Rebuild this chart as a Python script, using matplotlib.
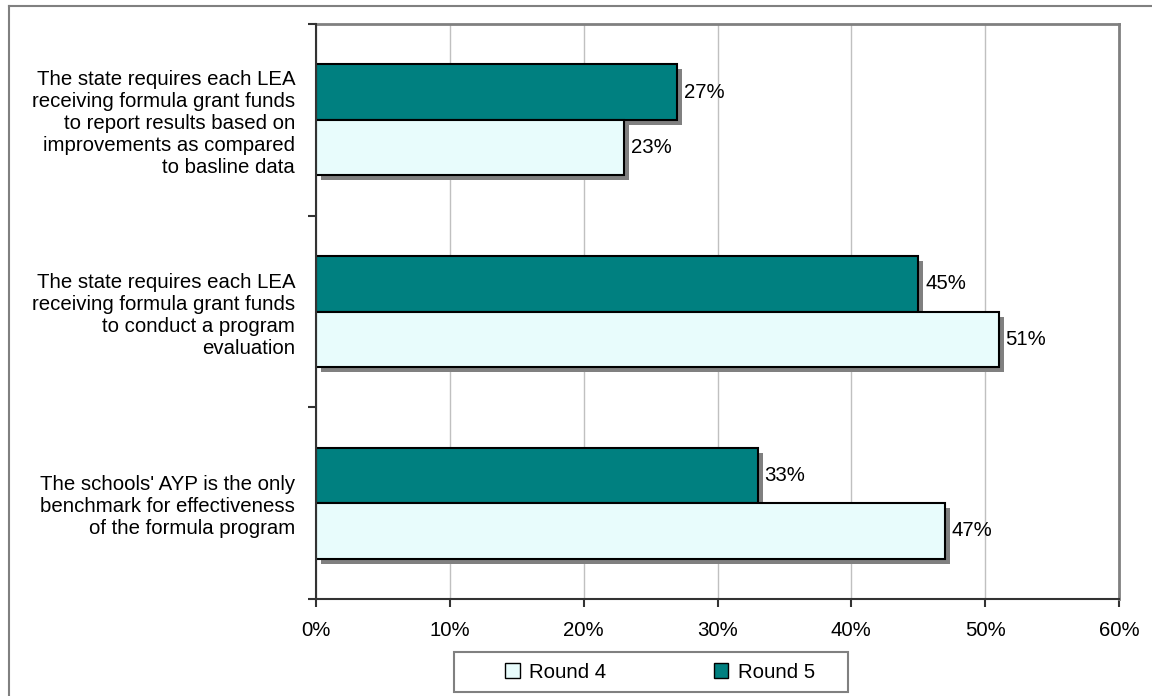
import matplotlib.pyplot as plt
import matplotlib.patheffects as pe
from matplotlib.patches import Rectangle
from matplotlib.lines import Line2D
import numpy as np

plt.rcParams['font.family'] = ['Liberation Sans', 'DejaVu Sans']

# categories listed bottom to top
categories = [
    "The schools' AYP is the only\nbenchmark for effectiveness\nof the formula program",
    "The state requires each LEA\nreceiving formula grant funds\nto conduct a program\nevaluation",
    "The state requires each LEA\nreceiving formula grant funds\nto report results based on\nimprovements as compared\nto basline data",
]
round4 = [47, 51, 23]
round5 = [33, 45, 27]
xticks = [0, 10, 20, 30, 40, 50, 60]

teal = '#008080'
pale = '#E8FCFC'
fs = 14.7
shadow = [pe.SimplePatchShadow(offset=(3.6, -3.6), shadow_rgbFace='#808080', alpha=1.0), pe.Normal()]

fig = plt.figure(figsize=(11.52, 6.96), dpi=100)
ax = fig.add_axes([316 / 1152, 1 - 599 / 696, 803 / 1152, 575 / 696])

y = np.arange(len(categories))
h = 0.29
r5 = ax.barh(y + h / 2, round5, h, color=teal, edgecolor='black', linewidth=1.5, zorder=3)
r4 = ax.barh(y - h / 2, round4, h, color=pale, edgecolor='black', linewidth=1.5, zorder=4)
for bars in (r5, r4):
    for b in bars:
        b.set_path_effects(shadow)
    ax.bar_label(bars, labels=[f'{v:.0f}%' for v in bars.datavalues], padding=5, fontsize=fs, zorder=5)

ax.set_xlim(0, 60)
ax.set_ylim(-0.5, 2.5)
ax.set_xticks(xticks, [f'{t}%' for t in xticks])
ax.set_yticks(y, categories)
ax.set_yticks([-0.5, 0.5, 1.5, 2.5], minor=True)
ax.tick_params(axis='y', which='major', length=0, pad=15, labelsize=fs)
ax.tick_params(axis='y', which='minor', length=6, width=1.5, color='#333333')
ax.tick_params(axis='x', length=6, width=1.5, color='#333333', pad=10, labelsize=fs)
for lab in ax.get_yticklabels():
    lab.set_linespacing(1.2)

ax.grid(axis='x', color='#C0C0C0', linewidth=1, zorder=0)
ax.set_axisbelow(True)
for side in ('top', 'right'):
    ax.spines[side].set_color('#808080')
    ax.spines[side].set_linewidth(2)
for side in ('left', 'bottom'):
    ax.spines[side].set_color('#333333')
    ax.spines[side].set_linewidth(1.5)
    ax.spines[side].set_zorder(6)

# legend box
fig.patches.append(Rectangle((454 / 1152, 1 - 692 / 696), 394 / 1152, 40 / 696,
                             transform=fig.transFigure, facecolor='white',
                             edgecolor='#808080', linewidth=1.5))
handles = [Rectangle((0, 0), 1, 1, facecolor=pale, edgecolor='black', linewidth=1),
           Rectangle((0, 0), 1, 1, facecolor=teal, edgecolor='black', linewidth=1)]
fig.legend(handles, ['Round 4', 'Round 5'], loc='center', bbox_to_anchor=(660 / 1152, 1 - 672 / 696),
           ncol=2, frameon=False, fontsize=fs, handlelength=0.7, handleheight=0.7,
           handletextpad=0.45, columnspacing=5.3)

# outer border
fig.add_artist(Line2D([8.5 / 1152, 1], [1 - 5.5 / 696] * 2, transform=fig.transFigure, color='#808080', lw=1.5))
fig.add_artist(Line2D([8.5 / 1152] * 2, [0, 1 - 5.5 / 696], transform=fig.transFigure, color='#808080', lw=1.5))

fig.savefig('out.png', dpi=100, facecolor='white')
